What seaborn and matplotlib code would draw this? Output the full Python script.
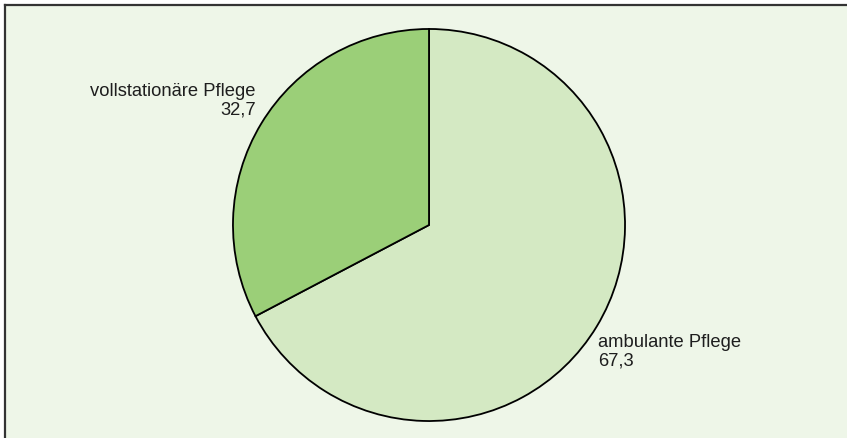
import matplotlib
matplotlib.use("Agg")
import matplotlib.pyplot as plt
import seaborn as sns

# data
categories = ["ambulante Pflege", "vollstationäre Pflege"]
shares = [67.3, 32.7]
value_labels = ["67,3", "32,7"]
colors = ["#d4e9c3", "#9bcf78"]

sns.set_style("white")
plt.rcParams["font.family"] = ["Liberation Sans", "DejaVu Sans"]

W, H = 847, 439
fig = plt.figure(figsize=(W / 100, H / 100), dpi=100, facecolor="white")

# background panel with top/left frame lines
bg = fig.add_axes([4.5 / W, 0, 1 - 4.5 / W, 1 - 5.5 / H])
bg.set_facecolor("#eef6e8")
bg.set_xticks([])
bg.set_yticks([])
for side in ["right", "bottom"]:
    bg.spines[side].set_visible(False)
for side in ["top", "left"]:
    bg.spines[side].set_color("#333333")
    bg.spines[side].set_linewidth(1.6)

# pie axes: center (429, 226) px, radius 197 px
cx, cy, r = 429, 226, 197
ax = fig.add_axes([(cx - r) / W, (H - cy - r) / H, 2 * r / W, 2 * r / H])
ax.set_axis_off()
ax.pie(shares, colors=colors, startangle=90, counterclock=False,
       wedgeprops=dict(edgecolor="black", linewidth=1.3))
ax.set_xlim(-1.005, 1.005)
ax.set_ylim(-1.005, 1.005)
ax.set_aspect("equal")

fig.text(256 / W, 1 - 101 / H, categories[1] + "\n" + value_labels[1],
         ha="right", va="center", multialignment="right",
         fontsize=13.2, color="#1e1e1e", linespacing=1.15)
fig.text(598 / W, 1 - 352 / H, categories[0] + "\n" + value_labels[0],
         ha="left", va="center", multialignment="left",
         fontsize=13.2, color="#1e1e1e", linespacing=1.15)

fig.savefig("out.png", dpi=100, facecolor="white")
